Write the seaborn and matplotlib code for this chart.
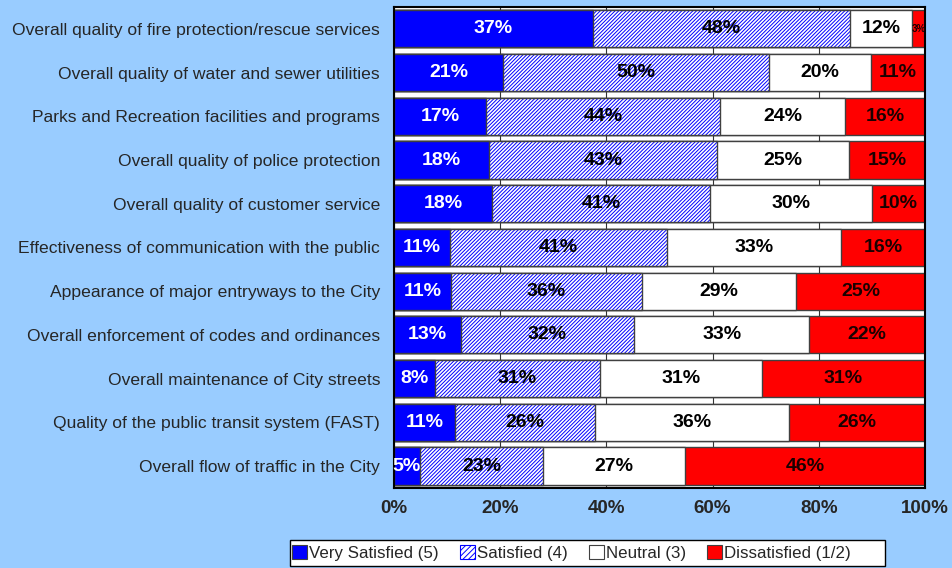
import numpy as np
import pandas as pd
import matplotlib
matplotlib.use("Agg")
import matplotlib.pyplot as plt
import matplotlib.patches as mpatches
import seaborn as sns

categories = [
    "Overall quality of fire protection/rescue services",
    "Overall quality of water and sewer utilities",
    "Parks and Recreation facilities and programs",
    "Overall quality of police protection",
    "Overall quality of customer service",
    "Effectiveness of communication with the public",
    "Appearance of major entryways to the City",
    "Overall enforcement of codes and ordinances",
    "Overall maintenance of City streets",
    "Quality of the public transit system (FAST)",
    "Overall flow of traffic in the City",
]

# segment widths (percent)
very_sat = [37.5, 20.5, 17.3, 17.9, 18.5, 10.5, 10.7, 12.6, 7.7, 11.5, 4.9]
satisfied = [48.4, 50.1, 44.1, 42.9, 41.0, 40.9, 36.0, 32.6, 31.1, 26.4, 23.2]
neutral = [11.7, 19.2, 23.5, 24.9, 30.5, 32.8, 29.0, 33.0, 30.5, 36.5, 26.7]
dissat = [2.4, 10.2, 15.1, 14.3, 10.0, 15.8, 24.3, 21.8, 30.7, 25.6, 45.2]

# printed labels
very_sat_lab = [37, 21, 17, 18, 18, 11, 11, 13, 8, 11, 5]
satisfied_lab = [48, 50, 44, 43, 41, 41, 36, 32, 31, 26, 23]
neutral_lab = [12, 20, 24, 25, 30, 33, 29, 33, 31, 36, 27]
dissat_lab = [3, 11, 16, 15, 10, 16, 25, 22, 31, 26, 46]

series = ["Very Satisfied (5)", "Satisfied (4)", "Neutral (3)", "Dissatisfied (1/2)"]

sns.set_style("white")
plt.rcParams["font.family"] = ["Liberation Sans", "DejaVu Sans"]
plt.rcParams["hatch.linewidth"] = 0.7

bg = "#99CCFF"
edge = "#404040"
hatch = "/" * 9

df = pd.DataFrame({"cat": categories, "vs": very_sat, "sat": satisfied,
                   "neu": neutral, "dis": dissat})
df["c1"] = df["vs"]
df["c2"] = df["c1"] + df["sat"]
df["c3"] = df["c2"] + df["neu"]
df["c4"] = df["c3"] + df["dis"]

fig = plt.figure(figsize=(9.53, 5.68), dpi=100, facecolor=bg)
ax = fig.add_axes([0.4134, 0.141, 0.5572, 0.8467])
ax.set_facecolor("white")

w = 0.85
common = dict(y="cat", orient="h", width=w, saturation=1, errorbar=None, ax=ax,
              linewidth=1, edgecolor=edge)
sns.barplot(data=df, x="c4", color="red", **common)
sns.barplot(data=df, x="c3", color="white", **common)
sns.barplot(data=df, x="c2", color="white", hatch=hatch, **common)
# blue hatch lines, dark outline drawn separately
for p in ax.containers[2]:
    p.set_edgecolor("blue")
    p.set_linewidth(0)
sns.barplot(data=df, x="c2", y="cat", orient="h", width=w, errorbar=None, ax=ax,
            fill=False, color=edge, linewidth=1)
sns.barplot(data=df, x="c1", color="blue", **common)

# value labels
starts = [np.zeros(len(df)), df["c1"].values, df["c2"].values, df["c3"].values]
widths = [df["vs"].values, df["sat"].values, df["neu"].values, df["dis"].values]
labs = [very_sat_lab, satisfied_lab, neutral_lab, dissat_lab]
tcol = ["white", "black", "black", "#1a0000"]
for s, wd, lb, tc in zip(starts, widths, labs, tcol):
    for i in range(len(df)):
        fs = 7 if wd[i] < 4 else 14
        ax.text(s[i] + wd[i] / 2, i, f"{lb[i]}%", ha="center", va="center",
                color=tc, fontsize=fs, fontweight="bold")

ax.set_xlim(0, 100)
ax.set_ylim(len(df) - 0.5, -0.5)
ax.set_xticks([0, 20, 40, 60, 80, 100])
ax.set_xticklabels([f"{t}%" for t in [0, 20, 40, 60, 80, 100]],
                   fontsize=13.5, fontweight="bold")
ax.tick_params(axis="x", length=0, pad=9)
ax.tick_params(axis="y", length=0, labelsize=12.6, pad=10)
ax.set_xlabel("")
ax.set_ylabel("")
ax.grid(axis="x", color="#333333", linewidth=0.8)
ax.set_axisbelow(True)
for sp in ax.spines.values():
    sp.set_visible(True)
    sp.set_color("black")
    sp.set_linewidth(1.5)

# legend box (Excel style, extra room on the right)
fig.patches.append(mpatches.Rectangle((290 / 953, 1 - 566 / 568), 595 / 953, 26 / 568,
                                      transform=fig.transFigure, facecolor="white",
                                      edgecolor="black", linewidth=1, zorder=0))
handles = [
    mpatches.Patch(facecolor="blue", edgecolor=edge, linewidth=0.8),
    mpatches.Patch(facecolor="white", edgecolor="blue", hatch="/" * 6, linewidth=0.8),
    mpatches.Patch(facecolor="white", edgecolor=edge, linewidth=0.8),
    mpatches.Patch(facecolor="red", edgecolor=edge, linewidth=0.8),
]
leg = fig.legend(handles, series, loc="center left", bbox_to_anchor=(292 / 953, 0.0264),
                 ncol=4, fontsize=12.2, frameon=False,
                 handlelength=0.9, handleheight=0.9,
                 handletextpad=0.1, columnspacing=1.25, borderpad=0,
                 borderaxespad=0)

fig.savefig("out.png", dpi=100, facecolor=bg)
